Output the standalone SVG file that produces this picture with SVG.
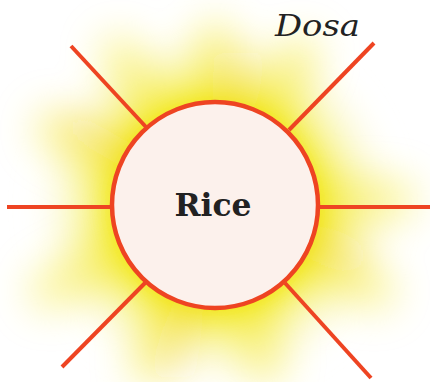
<svg xmlns="http://www.w3.org/2000/svg" width="430" height="382" viewBox="0 0 430 382">
  <defs>
    <radialGradient id="glow" cx="215" cy="206" r="195" gradientUnits="userSpaceOnUse">
      <stop offset="0.5" stop-color="#f0e600" stop-opacity="0.95"/>
      <stop offset="0.62" stop-color="#f2ea30" stop-opacity="0.6"/>
      <stop offset="0.8" stop-color="#f6f090" stop-opacity="0.28"/>
      <stop offset="1" stop-color="#ffffff" stop-opacity="0"/>
    </radialGradient>
    <filter id="blur" x="-30%" y="-30%" width="160%" height="160%">
      <feGaussianBlur stdDeviation="20"/>
    </filter>
    <filter id="blur2" x="-30%" y="-30%" width="160%" height="160%">
      <feGaussianBlur stdDeviation="10"/>
    </filter>
  </defs>
  <style>
    .spoke { stroke: #ee4422; stroke-width: 4; stroke-linecap: butt; fill: none; }
    .ray { stroke: #f3e400; stroke-width: 40; stroke-linecap: round; opacity: 0.4; }
    .oray { stroke: #f0b040; stroke-width: 16; stroke-linecap: round; opacity: 0.3; }
    .center { fill: #fcf1ec; stroke: #ee4422; stroke-width: 4.5; }
    .main { font-family: "DejaVu Serif", "Liberation Serif", serif; font-weight: bold; font-size: 31px; fill: #222222; }
    .label { font-family: "DejaVu Serif", "Liberation Serif", serif; font-style: italic; font-size: 30px; fill: #222222; }
  </style>
  <rect width="430" height="382" fill="#ffffff"/>
  <g id="glow-bg">
    <circle cx="215" cy="206" r="190" fill="url(#glow)" filter="url(#blur2)"/>
    <g filter="url(#blur)">
      <line class="ray" x1="215" y1="206" x2="215" y2="40"/>
      <line class="ray" x1="215" y1="206" x2="300" y2="55"/>
      <line class="ray" x1="215" y1="206" x2="120" y2="55"/>
      <line class="ray" x1="215" y1="206" x2="55" y2="130"/>
      <line class="ray" x1="215" y1="206" x2="395" y2="200"/>
      <line class="ray" x1="215" y1="206" x2="375" y2="290"/>
      <line class="ray" x1="215" y1="206" x2="50" y2="290"/>
      <line class="ray" x1="215" y1="206" x2="150" y2="365"/>
      <line class="ray" x1="215" y1="206" x2="265" y2="365"/>
      <line class="oray" x1="215" y1="206" x2="65" y2="120"/>
      <line class="oray" x1="215" y1="206" x2="360" y2="260"/>
      <line class="oray" x1="215" y1="206" x2="170" y2="370"/>
      <line class="oray" x1="215" y1="206" x2="240" y2="60"/>
    </g>
  </g>
  <g id="connectors">
    <line class="spoke" x1="71" y1="46" x2="146" y2="127"/>
    <line class="spoke" x1="374" y1="43" x2="289" y2="130"/>
    <line class="spoke" x1="7" y1="207" x2="113" y2="207"/>
    <line class="spoke" x1="318" y1="207" x2="430" y2="207"/>
    <line class="spoke" x1="62" y1="367" x2="146" y2="282"/>
    <line class="spoke" x1="285" y1="283" x2="371" y2="378"/>
  </g>
  <g id="node-rice">
    <circle class="center" cx="215" cy="205" r="103"/>
    <text class="main" x="213" y="216" text-anchor="middle" textLength="77" lengthAdjust="spacingAndGlyphs">Rice</text>
  </g>
  <g id="label-dosa">
    <text class="label" x="275" y="36" textLength="85" lengthAdjust="spacingAndGlyphs">Dosa</text>
  </g>
</svg>
